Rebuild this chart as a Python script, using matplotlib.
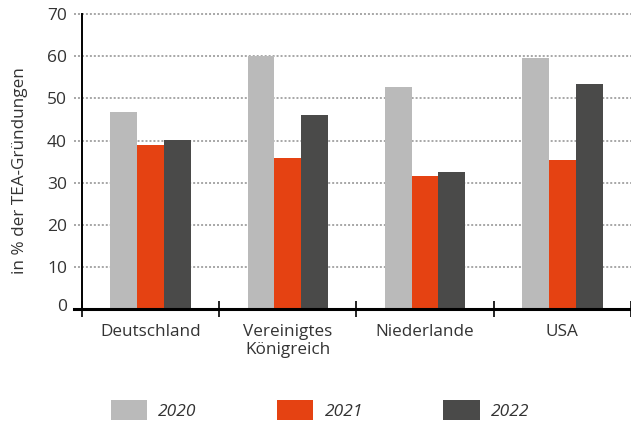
import matplotlib
matplotlib.use("Agg")
import matplotlib.pyplot as plt
import matplotlib.transforms as mtransforms
import numpy as np
from matplotlib.patches import Patch

plt.rcParams["font.family"] = ["Open Sans", "DejaVu Sans"]

countries = ["Deutschland", "Vereinigtes\nKönigreich", "Niederlande", "USA"]
years = ["2020", "2021", "2022"]
share_2020 = [46.8, 60.0, 52.7, 59.6]
share_2021 = [39.0, 35.9, 31.6, 35.4]
share_2022 = [40.2, 46.1, 32.6, 53.4]
colors = ["#bababa", "#e54212", "#4a4a49"]
text_color = "#333333"

fig = plt.figure(figsize=(6.31, 4.22), dpi=100)
ax = fig.add_axes([81.7 / 631, (422 - 309.3) / 422, 549.3 / 631, 295.3 / 422])

x = np.arange(len(countries))
w = 0.195
for i, vals in enumerate([share_2020, share_2021, share_2022]):
    ax.bar(x + (i - 1) * w, vals, width=w, color=colors[i], zorder=3)

ax.set_xlim(-0.5, -0.5 + 549.3 / 138.6)
ax.set_ylim(0, 70)

# dotted grid lines, slightly sticking out left of the y axis
for yv in range(10, 71, 10):
    ax.axhline(yv, xmin=-7.5 / 549.3, xmax=1, color="#a0a0a0", lw=1.3,
               dashes=(1.1, 1.1), clip_on=False, zorder=1)
ax.axhline(0, xmin=-7.5 / 549.3, xmax=1, color="black", lw=2.2,
           clip_on=False, zorder=4)

for side in ["top", "right", "bottom"]:
    ax.spines[side].set_visible(False)
ax.spines["left"].set_linewidth(1.4)
ax.spines["left"].set_zorder(5)

ax.set_yticks(range(0, 71, 10))
ax.tick_params(axis="y", length=0, pad=10.5, labelsize=12.5, labelcolor=text_color)
# the zero label sits a little above the axis line
zero_lbl = ax.get_yticklabels()[0]
zero_lbl.set_transform(zero_lbl.get_transform() +
                       mtransforms.ScaledTranslation(0, 4.5 / 100, fig.dpi_scale_trans))

ax.set_xticks(x)
ax.set_xticklabels(countries, linespacing=1.2)
ax.set_xticks(np.arange(-0.5, 4.0, 1.0), minor=True)
ax.tick_params(axis="x", which="major", length=0, pad=10.5, labelsize=12.3,
               labelcolor=text_color)
ax.tick_params(axis="x", which="minor", direction="inout", length=11,
               width=1.2, color="black")

fig.text(20 / 631, (422 - 171) / 422, "in % der TEA-Gründungen", rotation=90,
         ha="center", va="center", fontsize=12.3, color=text_color)

handles = [Patch(facecolor=c, edgecolor="none") for c in colors]
leg = fig.legend(handles, years, loc="center", bbox_to_anchor=(320 / 631, 12 / 422),
                 ncol=3, frameon=False, handlelength=2.1, handleheight=1.36,
                 handletextpad=0.66, columnspacing=4.6,
                 prop={"size": 12.5, "style": "italic"})
for t in leg.get_texts():
    t.set_color(text_color)

fig.savefig("out.png", dpi=100)
